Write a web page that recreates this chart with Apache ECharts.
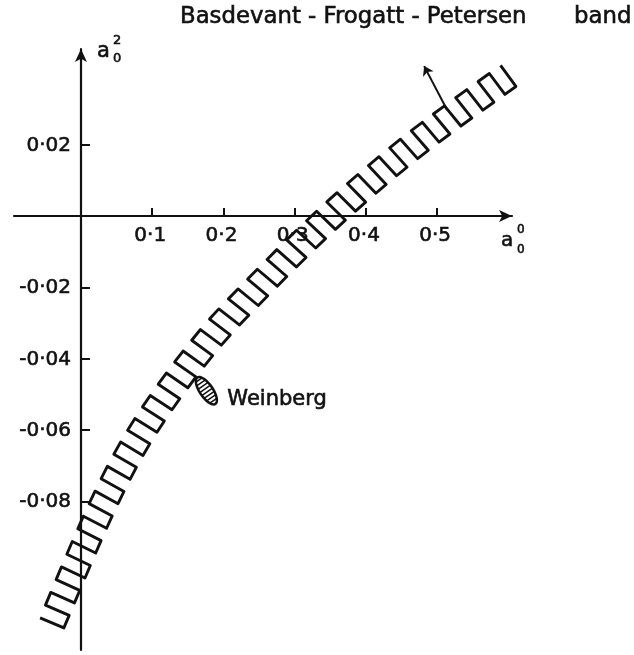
<!DOCTYPE html>
<html><head><meta charset="utf-8">
<script src="https://cdn.jsdelivr.net/npm/echarts@6/dist/echarts.min.js"></script>
<style>html,body{margin:0;padding:0;background:#fff}#c{width:634px;height:655px}</style>
</head><body><div id="c"></div>
<script>
// ---- axis ticks ----
const xTickValues = [0.1, 0.2, 0.3, 0.4, 0.5];
const xTickLabels = ['0·1', '0·2', '0·3', '0·4', '0·5'];
const yTickValues = [0.02, -0.02, -0.04, -0.06, -0.08];
const yTickLabels = ['0·02', '-0·02', '-0·04', '-0·06', '-0·08'];
// ---- Basdevant-Frogatt-Petersen band edges (a0^0, a0^2) ----
const bandUpperX = [-0.0574, 0.0130, 0.0744, 0.1572, 0.2355, 0.3416, 0.4579, 0.5889];
const bandUpperY = [-0.1127, -0.0800, -0.0572, -0.0344, -0.0174, 0.0033, 0.0230, 0.0422];
const bandLowerX = [-0.0240, 0.0460, 0.1053, 0.1855, 0.2617, 0.3662, 0.4804, 0.6105];
const bandLowerY = [-0.1155, -0.0832, -0.0611, -0.0390, -0.0225, -0.0021, 0.0173, 0.0363];
// ---- Weinberg point and annotation arrow ----
const weinberg = [0.176, -0.049];
const arrowFrom = [0.514, 0.0297];
const arrowTo = [0.4817, 0.042];

const INK = '#111';
const FONT = 'DejaVu Sans';

function densify(P, steps) {
  const out = [];
  for (let i = 0; i < P.length - 1; i++) {
    const p0 = P[Math.max(i - 1, 0)], p1 = P[i], p2 = P[i + 1], p3 = P[Math.min(i + 2, P.length - 1)];
    for (let s = 0; s < steps; s++) {
      const t = s / steps, t2 = t * t, t3 = t2 * t;
      out.push([0, 1].map(k => 0.5 * ((2 * p1[k]) + (-p0[k] + p2[k]) * t +
        (2 * p0[k] - 5 * p1[k] + 4 * p2[k] - p3[k]) * t2 +
        (-p0[k] + 3 * p1[k] - 3 * p2[k] + p3[k]) * t3)));
    }
  }
  out.push(P[P.length - 1]);
  return out;
}
function cumLen(P) {
  const c = [0];
  for (let i = 1; i < P.length; i++) c.push(c[i - 1] + Math.hypot(P[i][0] - P[i - 1][0], P[i][1] - P[i - 1][1]));
  return c;
}
function resample(P, n) {
  const cum = cumLen(P), total = cum[cum.length - 1], out = [];
  let j = 0;
  for (let k = 0; k < n; k++) {
    const d = total * k / (n - 1);
    while (j < P.length - 2 && cum[j + 1] < d) j++;
    const seg = cum[j + 1] - cum[j];
    const t = seg > 0 ? Math.min(1, Math.max(0, (d - cum[j]) / seg)) : 0;
    out.push([P[j][0] + (P[j + 1][0] - P[j][0]) * t, P[j][1] + (P[j + 1][1] - P[j][1]) * t]);
  }
  return out;
}

function renderBand(params, api) {
  const U = densify(bandUpperX.map((x, i) => api.coord([x, bandUpperY[i]])), 20);
  const L = densify(bandLowerX.map((x, i) => api.coord([x, bandLowerY[i]])), 20);
  const lu = cumLen(U), ll = cumLen(L);
  const len = (lu[lu.length - 1] + ll[ll.length - 1]) / 2;
  const pitch = 13.8;
  const n = Math.round(len / pitch) + 1;
  const Ur = resample(U, n), Lr = resample(L, n);
  const pts = [];
  for (let i = 0; i < n; i++) {
    if (i % 2 === 0) { pts.push(Ur[i], Lr[i]); } else { pts.push(Lr[i], Ur[i]); }
  }
  return {
    type: 'polyline', shape: { points: pts },
    style: { stroke: INK, lineWidth: 2.9, fill: null, lineJoin: 'round' }
  };
}

function renderWeinberg(params, api) {
  const c = api.coord(weinberg);
  const rx = 16, ry = 6.5;
  const ang = Math.atan2(0.824, 0.566);
  const cs = Math.cos(ang), sn = Math.sin(ang);
  const tf = (u, v) => [c[0] + u * cs - v * sn, c[1] + u * sn + v * cs];
  const outline = [];
  for (let k = 0; k < 48; k++) {
    const a = 2 * Math.PI * k / 48;
    outline.push(tf(rx * Math.cos(a), ry * Math.sin(a)));
  }
  const children = [{
    type: 'polygon', shape: { points: outline },
    style: { fill: '#fff', stroke: INK, lineWidth: 2.5 }
  }];
  for (let u = -rx + 3; u < rx - 1.5; u += 3.6) {
    const h = ry * Math.sqrt(1 - (u / rx) * (u / rx));
    const a = tf(u, -h), b = tf(u, h);
    children.push({ type: 'line', shape: { x1: a[0], y1: a[1], x2: b[0], y2: b[1] }, style: { stroke: INK, lineWidth: 1.5 } });
  }
  children.push({
    type: 'text', x: c[0] + 21, y: c[1] + 9,
    style: { text: 'Weinberg', fontSize: 21, fontFamily: FONT, fill: INK, stroke: INK, lineWidth: 0.6, align: 'left', verticalAlign: 'middle' }
  });
  return { type: 'group', children };
}

function renderXLabels(params, api) {
  const i = params.dataIndex;
  const p = api.coord([xTickValues[i], 0]);
  return { type: 'text', x: p[0] - 2, y: p[1] + 20,
    style: { text: xTickLabels[i], fontSize: 20, fontFamily: FONT, fill: INK, stroke: INK, lineWidth: 0.6, align: 'center', verticalAlign: 'middle' } };
}
function renderYLabels(params, api) {
  const i = params.dataIndex;
  const p = api.coord([0, yTickValues[i]]);
  return { type: 'text', x: p[0] - 10, y: p[1] + 1,
    style: { text: yTickLabels[i], fontSize: 20, fontFamily: FONT, fill: INK, stroke: INK, lineWidth: 0.6, align: 'right', verticalAlign: 'middle' } };
}

const chart = echarts.init(document.getElementById('c'), null, { renderer: 'canvas' });
const axisLineStyle = { color: INK, width: 2.2 };
const txt = (text, x, y, size) => ({ type: 'text', x, y, style: { text, fontSize: size, fontFamily: FONT, fill: INK, stroke: INK, lineWidth: 0.6, verticalAlign: 'middle' } });
chart.setOption({
  animation: false,
  backgroundColor: '#fff',
  grid: { left: 14, right: 122, top: 49, bottom: 5, containLabel: false, outerBoundsMode: 'none' },
  xAxis: {
    type: 'value', min: -0.094, max: 0.605,
    splitLine: { show: false },
    axisLine: { onZero: true, lineStyle: axisLineStyle, symbol: ['none', 'arrow'], symbolSize: [9, 13] },
    axisTick: { show: true, inside: true, length: 8, customValues: xTickValues, lineStyle: { color: INK, width: 2 } },
    axisLabel: { show: false }
  },
  yAxis: {
    type: 'value', min: -0.1217, max: 0.0468,
    splitLine: { show: false },
    axisLine: { onZero: true, lineStyle: axisLineStyle, symbol: ['none', 'arrow'], symbolSize: [9, 13] },
    axisTick: { show: true, inside: true, length: 9, customValues: yTickValues, lineStyle: { color: INK, width: 2 } },
    axisLabel: { show: false }
  },
  graphic: [
    txt('Basdevant - Frogatt - Petersen', 180, 17, 22.8),
    txt('band', 574, 17, 22.8),
    txt('a', 97, 52, 21),
    txt('2', 113, 41, 13),
    txt('0', 113, 59, 13),
    txt('a', 501, 241, 20),
    txt('0', 517, 230, 12),
    txt('0', 517, 250, 12)
  ],
  series: [
    { type: 'custom', coordinateSystem: 'cartesian2d', renderItem: renderXLabels, data: xTickValues.map(v => [v, 0]), clip: false, silent: true, z: 2 },
    { type: 'custom', coordinateSystem: 'cartesian2d', renderItem: renderYLabels, data: yTickValues.map(v => [0, v]), clip: false, silent: true, z: 2 },
    { type: 'custom', coordinateSystem: 'cartesian2d', renderItem: renderBand, data: [[0.3, 0]], clip: false, silent: true, z: 3 },
    { type: 'custom', coordinateSystem: 'cartesian2d', renderItem: renderWeinberg, data: [weinberg], clip: false, silent: true, z: 4 },
    {
      type: 'lines', coordinateSystem: 'cartesian2d', z: 4,
      data: [{ coords: [arrowFrom, arrowTo] }],
      lineStyle: { color: INK, width: 2, opacity: 1 },
      symbol: ['none', 'arrow'], symbolSize: 9
    }
  ]
});
</script>
</body></html>
